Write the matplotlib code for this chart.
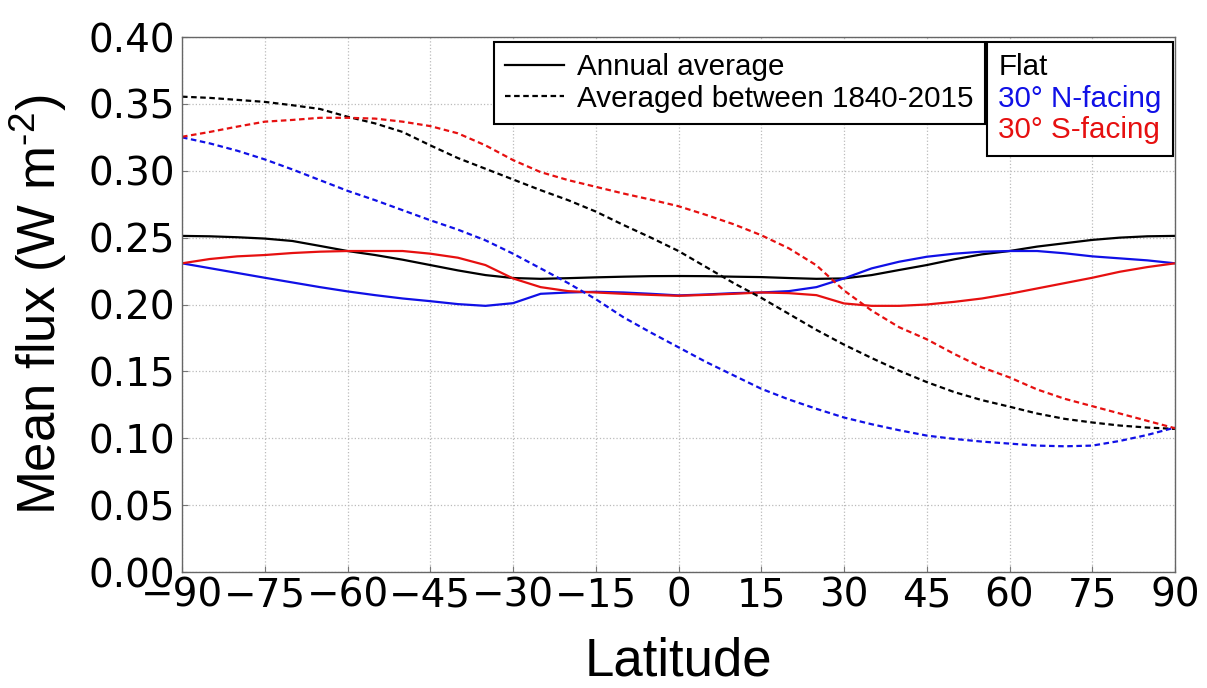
import numpy as np
import matplotlib
matplotlib.use("Agg")
import matplotlib.pyplot as plt
from matplotlib.lines import Line2D

# ------------------------------------------
# Data
# ------------------------------------------
latitude = np.arange(-90, 91, 5)

# annual average (solid lines)
flat_annual = [0.2513, 0.2510, 0.2503, 0.2493, 0.2475, 0.2438, 0.2400, 0.2370, 0.2335,
               0.2295, 0.2255, 0.2220, 0.2198, 0.2192, 0.2197, 0.2203, 0.2208, 0.2212,
               0.2213,
               0.2212, 0.2208, 0.2205, 0.2198, 0.2192, 0.2195, 0.2220, 0.2258, 0.2295,
               0.2338, 0.2375, 0.2400, 0.2433, 0.2458, 0.2483, 0.2500, 0.2510, 0.2513]
north_annual = [0.2308, 0.2272, 0.2236, 0.2200, 0.2165, 0.2130, 0.2098, 0.2070, 0.2045,
                0.2025, 0.2003, 0.1990, 0.2010, 0.2080, 0.2090, 0.2095, 0.2090, 0.2080,
                0.2068,
                0.2075, 0.2085, 0.2090, 0.2100, 0.2130, 0.2195, 0.2270, 0.2320, 0.2357,
                0.2380, 0.2395, 0.2400, 0.2400, 0.2383, 0.2360, 0.2345, 0.2330, 0.2308]
south_annual = [0.2308, 0.2340, 0.2360, 0.2370, 0.2385, 0.2395, 0.2400, 0.2400, 0.2400,
                0.2380, 0.2350, 0.2295, 0.2195, 0.2130, 0.2100, 0.2090, 0.2080, 0.2072,
                0.2065,
                0.2072, 0.2080, 0.2090, 0.2085, 0.2070, 0.2008, 0.1990, 0.1990, 0.2000,
                0.2020, 0.2045, 0.2080, 0.2120, 0.2160, 0.2200, 0.2245, 0.2280, 0.2308]

# averaged between 1840-2015 (dashed lines)
flat_hist = [0.3554, 0.3545, 0.3530, 0.3515, 0.3490, 0.3462, 0.3404, 0.3354, 0.3290,
             0.3190, 0.3095, 0.3015, 0.2935, 0.2855, 0.2780, 0.2695, 0.2595, 0.2500,
             0.2400,
             0.2280, 0.2160, 0.2050, 0.1930, 0.1810, 0.1700, 0.1600, 0.1505, 0.1420,
             0.1345, 0.1285, 0.1236, 0.1185, 0.1145, 0.1118, 0.1095, 0.1080, 0.1070]
north_hist = [0.3250, 0.3205, 0.3150, 0.3085, 0.3010, 0.2930, 0.2850, 0.2780, 0.2705,
              0.2630, 0.2560, 0.2480, 0.2380, 0.2270, 0.2160, 0.2040, 0.1905, 0.1790,
              0.1680,
              0.1570, 0.1470, 0.1370, 0.1290, 0.1220, 0.1155, 0.1105, 0.1060, 0.1020,
              0.0995, 0.0975, 0.0960, 0.0945, 0.0940, 0.0945, 0.0980, 0.1025, 0.1080]
south_hist = [0.3254, 0.3290, 0.3330, 0.3367, 0.3380, 0.3396, 0.3396, 0.3390, 0.3367,
              0.3334, 0.3280, 0.3190, 0.3080, 0.2990, 0.2930, 0.2880, 0.2830, 0.2784,
              0.2735,
              0.2670, 0.2600, 0.2518, 0.2420, 0.2293, 0.2105, 0.1955, 0.1830, 0.1740,
              0.1630, 0.1530, 0.1455, 0.1365, 0.1295, 0.1240, 0.1185, 0.1130, 0.1075]

xticks = np.arange(-90, 91, 15)
yticks = np.arange(0, 0.401, 0.05)

# ------------------------------------------
# Style
# ------------------------------------------
plt.rcParams["mathtext.fontset"] = "custom"
plt.rcParams["mathtext.rm"] = "Liberation Sans"
plt.rcParams["mathtext.it"] = "Liberation Sans:italic"
plt.rcParams["mathtext.default"] = "rm"

arial = "Liberation Sans"
dash = (0, (2.5, 1.6))
blue = "#1010e6"
red = "#e61010"

fig = plt.figure(figsize=(12.07, 6.88), dpi=100)
ax = fig.add_axes([0.1508, 0.1686, 0.8227, 0.7776])

# ------------------------------------------
# Plot
# ------------------------------------------
ax.plot(latitude, flat_annual, color="black", lw=1.6)
ax.plot(latitude, north_annual, color=blue, lw=1.6)
ax.plot(latitude, south_annual, color=red, lw=1.6)
ax.plot(latitude, flat_hist, color="black", lw=1.6, ls=dash)
ax.plot(latitude, north_hist, color=blue, lw=1.6, ls=dash)
ax.plot(latitude, south_hist, color=red, lw=1.6, ls=dash)

ax.set_xlim(-90, 90)
ax.set_ylim(0, 0.40)
ax.set_xticks(xticks)
ax.set_yticks(yticks)
ax.set_xticklabels([f"{v}".replace("-", "\u2212") for v in xticks])
ax.set_yticklabels([f"{v:.2f}" for v in yticks])
ax.tick_params(labelsize=28, direction="in", length=4, color="#777777")
ax.tick_params(axis="x", pad=3)
ax.tick_params(axis="y", pad=5)
ax.grid(True, ls=":", color="#bbbbbb", lw=0.9)
for s in ax.spines.values():
    s.set_color("#666666")
    s.set_linewidth(1.0)

ax.set_xlabel("Latitude", fontsize=38, family=arial, labelpad=16)
ax.set_ylabel("Mean flux (W m$^{\u20102}$)", fontsize=38, family=arial, labelpad=14)

# line-style legend
style_handles = [Line2D([], [], color="black", lw=1.6),
                 Line2D([], [], color="black", lw=1.6, ls=dash)]
leg1 = ax.legend(style_handles, ["Annual average", "Averaged between 1840-2015"],
                 loc="upper right", bbox_to_anchor=(0.8087, 0.9907), borderaxespad=0,
                 prop={"family": arial, "size": 21.3}, fancybox=False, framealpha=1,
                 edgecolor="black", handlelength=2.0, handletextpad=0.45,
                 labelspacing=0.12, borderpad=0.38)
leg1.get_frame().set_linewidth(1.5)
ax.add_artist(leg1)

# colour legend (text only)
color_handles = [Line2D([], [], color="none") for _ in range(3)]
leg2 = ax.legend(color_handles, ["Flat", "30\u00b0 N-facing", "30\u00b0 S-facing"],
                 loc="upper right", bbox_to_anchor=(0.998, 0.9907), borderaxespad=0,
                 prop={"family": arial, "size": 21.3}, fancybox=False, framealpha=1,
                 edgecolor="black", handlelength=0, handletextpad=0,
                 labelspacing=0.12, borderpad=0.38,
                 labelcolor=["black", blue, red])
leg2.get_frame().set_linewidth(1.5)

fig.savefig("out.png", dpi=100)
